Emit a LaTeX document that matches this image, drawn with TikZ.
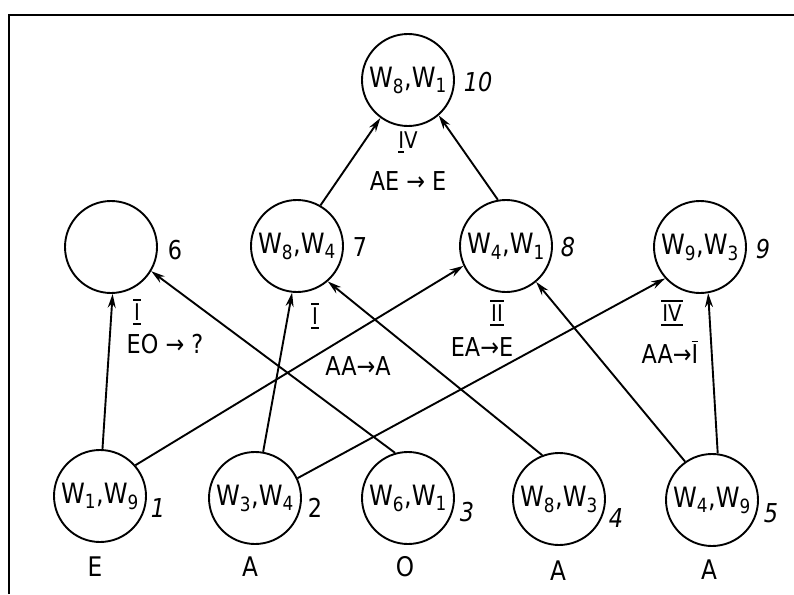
\documentclass[tikz,border=0pt]{standalone}
\usepackage{fontspec}
\setmainfont[FakeStretch=0.86]{DejaVu Sans}
\usetikzlibrary{arrows.meta}
\newcommand\Wpair[2]{W\textsubscript{#1},W\textsubscript{#2}}
\newcommand\rom[1]{\setbox0=\hbox{\kern1pt#1\kern1pt}\vbox{\hrule width\wd0 height1.8pt\kern2.5pt\copy0\kern2.5pt\hrule width\wd0 height1.8pt}}
\newcommand\ovl[1]{\setbox0=\hbox{#1}\vbox{\hrule width\wd0 height1.8pt\kern2pt\copy0}}
\newcommand\unl[1]{\setbox0=\hbox{#1}\vtop{\copy0\kern2.5pt\hrule width\wd0 height1.8pt}}
\begin{document}
\begin{tikzpicture}[x=1pt,y=-1pt,
  st/.style={circle,draw,line width=1.9pt,minimum size=92pt,inner sep=0pt,font=\fontsize{28}{32}\selectfont},
  num/.style={font=\fontsize{26}{30}\selectfont\itshape},
  numu/.style={font=\fontsize{26}{30}\selectfont},
  lett/.style={font=\fontsize{27}{31}\selectfont},
  rule/.style={font=\fontsize{26}{30}\selectfont},
  rn/.style={font=\fontsize{23}{27}\selectfont},
  edge/.style={line width=1.9pt,-{Stealth[length=14pt,width=8pt]}},
  frame/.style={line width=2.8pt}
]
\useasboundingbox (0,0) rectangle (794,594);
% frame
\coordinate (fl) at (9,594);
\coordinate (fc) at (9,15);
\coordinate (fr) at (794,15);
\draw[frame] (fl) -- (fc) -- (fr);

% nodes
\node[st] (n10) at (408,80) {\Wpair{8}{1}};
\node[st] (n6) at (111,247) {};
\node[st] (n7) at (297,246) {\Wpair{8}{4}};
\node[st] (n8) at (506,246) {\Wpair{4}{1}};
\node[st] (n9) at (700,247) {\Wpair{9}{3}};
\node[st] (n1) at (100,496) {\Wpair{1}{9}};
\node[st] (n2) at (255,498) {\Wpair{3}{4}};
\node[st] (n3) at (408,498) {\Wpair{6}{1}};
\node[st] (n4) at (559,499) {\Wpair{8}{3}};
\node[st] (n5) at (712,500) {\Wpair{4}{9}};

% numbers
\node[num] (l10) at (478,82) {10};
\node[numu] (l6) at (175,250) {6};
\node[numu] (l7) at (360,247) {7};
\node[num] (l8) at (568,247) {8};
\node[num] (l9) at (763,249) {9};
\node[num] (l1) at (158,508) {1};
\node[numu] (l2) at (315,508) {2};
\node[num] (l3) at (467,512) {3};
\node[num] (l4) at (616,518) {4};
\node[num] (l5) at (771,513) {5};

% bottom letters
\node[lett] (b1) at (95,567) {E};
\node[lett] (b2) at (250,567) {A};
\node[lett] (b3) at (405,567) {O};
\node[lett] (b4) at (558,571) {A};
\node[lett] (b5) at (709,570) {A};

% rule labels
\node[rn] (r10) at (408,142) {\unl{I}V};
\node[rule] (t10) at (408,181) {AE → E};
\node[rn] (r6) at (137,312) {\rom{I}};
\node[rule] (t6) at (165,344) {EO → ?};
\node[rn] (r7) at (315,316) {\rom{I}};
\node[rule] (t7) at (358,366) {AA→A};
\node[rn] (r8) at (497,313) {\rom{II}};
\node[rule] (t8) at (482,347) {EA→E};
\node[rn] (r9) at (672,313) {\rom{IV}};
\node[rule] (t9) at (670,352) {AA→\ovl{I}};

% edges
\draw[edge] (n1.87) -- (n6.272);
\draw[edge] (n1.41) -- (n8.205);
\draw[edge] (n2.80) -- (n7.264);
\draw[edge] (n2.25) -- (n9.222);
\draw[edge] (n3.106) -- (n6.329);
\draw[edge] (n4.111) -- (n7.311);
\draw[edge] (n5.125) -- (n8.310);
\draw[edge] (n5.83) -- (n9.280);
\draw[edge] (n7.60) -- (n10.234);
\draw[edge] (n8.100) -- (n10.311);
\end{tikzpicture}
\end{document}
